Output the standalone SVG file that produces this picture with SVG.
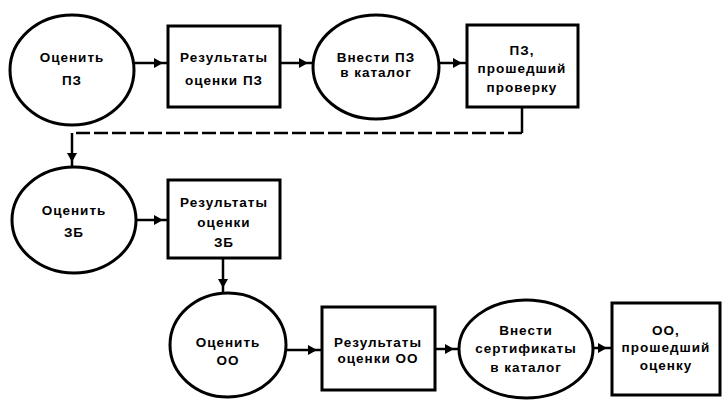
<svg xmlns="http://www.w3.org/2000/svg" width="725" height="400" viewBox="0 0 725 400">
<style>
.n{fill:#fff;stroke:#000;stroke-width:3}
.t{font-family:"Liberation Sans",Arial,sans-serif;font-weight:bold;font-size:13.5px;letter-spacing:1px;fill:#000;text-anchor:middle}
.c{fill:none;stroke:#000;stroke-width:2.5}
.d{stroke-dasharray:14,4}
</style>
<defs>
<marker id="a" markerUnits="userSpaceOnUse" markerWidth="16" markerHeight="12" refX="14" refY="5" orient="auto">
<path d="M0,0 L9,5 L0,10 Z" fill="#000"/>
</marker>
</defs>
<rect width="725" height="400" fill="#fff"/>
<g id="connectors">
<line class="c" x1="135" y1="63" x2="168" y2="63" marker-end="url(#a)"/>
<line class="c" x1="280" y1="63" x2="313" y2="63" marker-end="url(#a)"/>
<line class="c" x1="440" y1="63" x2="467" y2="63" marker-end="url(#a)"/>
<polyline class="c" points="522,107 522,133"/>
<line class="c d" x1="522" y1="133" x2="72" y2="133"/>
<line class="c" x1="72" y1="133" x2="72" y2="167" marker-end="url(#a)"/>
<line class="c" x1="137" y1="220" x2="168" y2="220" marker-end="url(#a)"/>
<line class="c" x1="223" y1="258" x2="223" y2="293" marker-end="url(#a)"/>
<line class="c" x1="287" y1="350" x2="322" y2="350" marker-end="url(#a)"/>
<line class="c" x1="435" y1="349" x2="459" y2="349" marker-end="url(#a)"/>
<line class="c" x1="594" y1="348" x2="612" y2="348" marker-end="url(#a)"/>
</g>
<g id="n1"><ellipse class="n" cx="72" cy="70" rx="62" ry="55"/>
<text class="t" x="72" y="62">Оценить</text><text class="t" x="72" y="85">ПЗ</text></g>
<g id="n2"><rect class="n" x="168" y="26" width="112" height="81"/>
<text class="t" x="224" y="62">Результаты</text><text class="t" x="224" y="85">оценки ПЗ</text></g>
<g id="n3"><ellipse class="n" cx="376" cy="67" rx="63" ry="52"/>
<text class="t" x="376" y="62">Внести ПЗ</text><text class="t" x="376" y="77">в каталог</text></g>
<g id="n4"><rect class="n" x="467" y="25" width="111" height="82"/>
<text class="t" x="522" y="55">ПЗ,</text><text class="t" x="522" y="73">прошедший</text><text class="t" x="522" y="92">проверку</text></g>
<g id="n5"><ellipse class="n" cx="74" cy="220" rx="62" ry="53"/>
<text class="t" x="74" y="215">Оценить</text><text class="t" x="74" y="237">ЗБ</text></g>
<g id="n6"><rect class="n" x="168" y="180" width="112" height="78"/>
<text class="t" x="224" y="207">Результаты</text><text class="t" x="224" y="227">оценки</text><text class="t" x="224" y="247">ЗБ</text></g>
<g id="n7"><ellipse class="n" cx="228" cy="345" rx="58" ry="52"/>
<text class="t" x="228" y="347">Оценить</text><text class="t" x="228" y="365">ОО</text></g>
<g id="n8"><rect class="n" x="322" y="307" width="113" height="83"/>
<text class="t" x="378" y="347">Результаты</text><text class="t" x="378" y="363">оценки ОО</text></g>
<g id="n9"><ellipse class="n" cx="526" cy="349" rx="67" ry="49"/>
<text class="t" x="526" y="335">Внести</text><text class="t" x="526" y="353">сертификаты</text><text class="t" x="526" y="372">в каталог</text></g>
<g id="n10"><rect class="n" x="612" y="303" width="108" height="92"/>
<text class="t" x="666" y="335">ОО,</text><text class="t" x="666" y="352">прошедший</text><text class="t" x="666" y="370">оценку</text></g>
</svg>
